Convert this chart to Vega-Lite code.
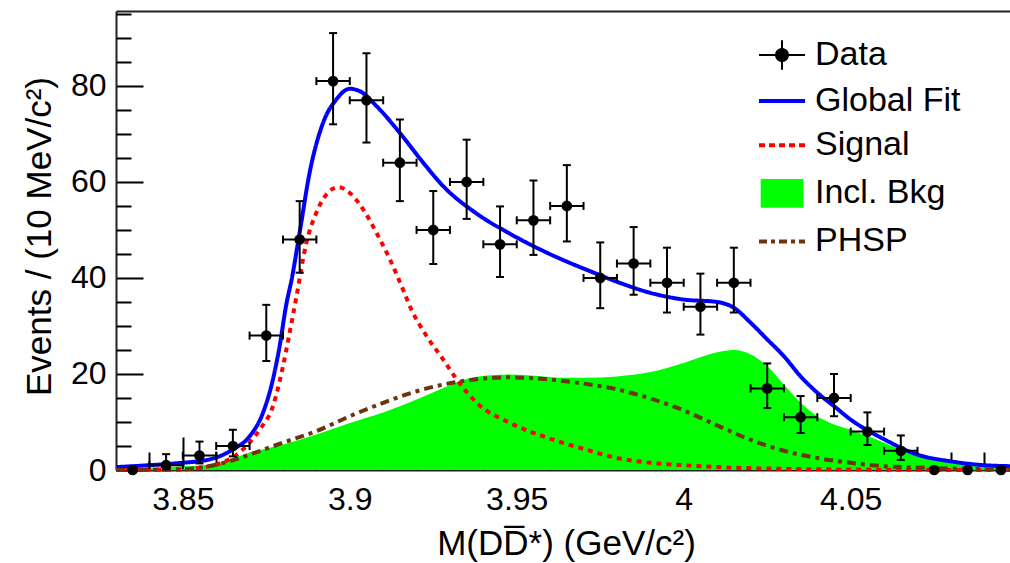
{
  "$schema": "https://vega.github.io/schema/vega-lite/v6.json",
  "autosize": {"type": "none"},
  "padding": {"left": 116, "top": 11, "right": 0, "bottom": 93},
  "width": 894,
  "height": 459,
  "background": "#ffffff",
  "config": {
    "view": {"stroke": null},
    "font": "Liberation Sans",
    "axis": {
      "domainColor": "#222222",
      "domainWidth": 2,
      "tickColor": "#000000",
      "tickWidth": 2,
      "labelColor": "#000000",
      "titleColor": "#000000",
      "titleFontWeight": "normal",
      "labelFont": "Liberation Sans",
      "titleFont": "Liberation Sans",
      "grid": false,
      "zindex": 1
    }
  },
  "datasets": {
    "curves": [
      {"m": 3.830, "y": 0.6, "s": "Global Fit"},
      {"m": 3.840, "y": 1.0, "s": "Global Fit"},
      {"m": 3.848, "y": 1.4, "s": "Global Fit"},
      {"m": 3.858, "y": 2.2, "s": "Global Fit"},
      {"m": 3.865, "y": 4.3, "s": "Global Fit"},
      {"m": 3.870, "y": 7.0, "s": "Global Fit"},
      {"m": 3.874, "y": 11.9, "s": "Global Fit"},
      {"m": 3.877, "y": 18.9, "s": "Global Fit"},
      {"m": 3.879, "y": 25.8, "s": "Global Fit"},
      {"m": 3.881, "y": 34.5, "s": "Global Fit"},
      {"m": 3.8826, "y": 39.7, "s": "Global Fit"},
      {"m": 3.885, "y": 49.5, "s": "Global Fit"},
      {"m": 3.888, "y": 62.0, "s": "Global Fit"},
      {"m": 3.892, "y": 72.3, "s": "Global Fit"},
      {"m": 3.896, "y": 77.2, "s": "Global Fit"},
      {"m": 3.900, "y": 79.4, "s": "Global Fit"},
      {"m": 3.903, "y": 78.9, "s": "Global Fit"},
      {"m": 3.908, "y": 75.8, "s": "Global Fit"},
      {"m": 3.915, "y": 70.2, "s": "Global Fit"},
      {"m": 3.922, "y": 64.0, "s": "Global Fit"},
      {"m": 3.928, "y": 59.1, "s": "Global Fit"},
      {"m": 3.938, "y": 53.4, "s": "Global Fit"},
      {"m": 3.948, "y": 49.2, "s": "Global Fit"},
      {"m": 3.958, "y": 45.6, "s": "Global Fit"},
      {"m": 3.965, "y": 43.4, "s": "Global Fit"},
      {"m": 3.972, "y": 41.4, "s": "Global Fit"},
      {"m": 3.980, "y": 39.2, "s": "Global Fit"},
      {"m": 3.990, "y": 36.9, "s": "Global Fit"},
      {"m": 4.000, "y": 35.5, "s": "Global Fit"},
      {"m": 4.010, "y": 35.0, "s": "Global Fit"},
      {"m": 4.015, "y": 33.8, "s": "Global Fit"},
      {"m": 4.020, "y": 30.7, "s": "Global Fit"},
      {"m": 4.025, "y": 27.2, "s": "Global Fit"},
      {"m": 4.030, "y": 23.7, "s": "Global Fit"},
      {"m": 4.035, "y": 19.5, "s": "Global Fit"},
      {"m": 4.040, "y": 16.1, "s": "Global Fit"},
      {"m": 4.045, "y": 13.3, "s": "Global Fit"},
      {"m": 4.050, "y": 10.5, "s": "Global Fit"},
      {"m": 4.060, "y": 6.4, "s": "Global Fit"},
      {"m": 4.070, "y": 3.2, "s": "Global Fit"},
      {"m": 4.080, "y": 1.8, "s": "Global Fit"},
      {"m": 4.090, "y": 1.0, "s": "Global Fit"},
      {"m": 4.0977, "y": 0.8, "s": "Global Fit"},

      {"m": 3.830, "y": 0.0, "s": "Signal"},
      {"m": 3.848, "y": 0.1, "s": "Signal"},
      {"m": 3.858, "y": 0.8, "s": "Signal"},
      {"m": 3.868, "y": 4.3, "s": "Signal"},
      {"m": 3.873, "y": 8.4, "s": "Signal"},
      {"m": 3.877, "y": 13.3, "s": "Signal"},
      {"m": 3.880, "y": 21.6, "s": "Signal"},
      {"m": 3.882, "y": 28.6, "s": "Signal"},
      {"m": 3.884, "y": 36.0, "s": "Signal"},
      {"m": 3.887, "y": 47.3, "s": "Signal"},
      {"m": 3.890, "y": 53.6, "s": "Signal"},
      {"m": 3.893, "y": 57.4, "s": "Signal"},
      {"m": 3.8966, "y": 58.9, "s": "Signal"},
      {"m": 3.900, "y": 57.7, "s": "Signal"},
      {"m": 3.904, "y": 54.3, "s": "Signal"},
      {"m": 3.908, "y": 49.4, "s": "Signal"},
      {"m": 3.912, "y": 43.9, "s": "Signal"},
      {"m": 3.916, "y": 37.5, "s": "Signal"},
      {"m": 3.918, "y": 34.1, "s": "Signal"},
      {"m": 3.923, "y": 27.9, "s": "Signal"},
      {"m": 3.928, "y": 23.0, "s": "Signal"},
      {"m": 3.932, "y": 18.9, "s": "Signal"},
      {"m": 3.938, "y": 14.0, "s": "Signal"},
      {"m": 3.948, "y": 9.8, "s": "Signal"},
      {"m": 3.958, "y": 7.0, "s": "Signal"},
      {"m": 3.970, "y": 4.4, "s": "Signal"},
      {"m": 3.980, "y": 2.5, "s": "Signal"},
      {"m": 3.990, "y": 1.5, "s": "Signal"},
      {"m": 4.000, "y": 1.0, "s": "Signal"},
      {"m": 4.010, "y": 0.6, "s": "Signal"},
      {"m": 4.030, "y": 0.25, "s": "Signal"},
      {"m": 4.050, "y": 0.1, "s": "Signal"},
      {"m": 4.0977, "y": 0.0, "s": "Signal"},

      {"m": 3.830, "y": 0.0, "s": "PHSP"},
      {"m": 3.848, "y": 0.1, "s": "PHSP"},
      {"m": 3.860, "y": 1.1, "s": "PHSP"},
      {"m": 3.870, "y": 3.2, "s": "PHSP"},
      {"m": 3.880, "y": 5.7, "s": "PHSP"},
      {"m": 3.890, "y": 8.1, "s": "PHSP"},
      {"m": 3.900, "y": 11.2, "s": "PHSP"},
      {"m": 3.910, "y": 14.0, "s": "PHSP"},
      {"m": 3.920, "y": 16.4, "s": "PHSP"},
      {"m": 3.928, "y": 17.8, "s": "PHSP"},
      {"m": 3.938, "y": 18.9, "s": "PHSP"},
      {"m": 3.948, "y": 19.3, "s": "PHSP"},
      {"m": 3.955, "y": 19.1, "s": "PHSP"},
      {"m": 3.962, "y": 18.7, "s": "PHSP"},
      {"m": 3.970, "y": 18.0, "s": "PHSP"},
      {"m": 3.980, "y": 16.8, "s": "PHSP"},
      {"m": 3.990, "y": 14.9, "s": "PHSP"},
      {"m": 4.000, "y": 12.4, "s": "PHSP"},
      {"m": 4.010, "y": 9.3, "s": "PHSP"},
      {"m": 4.020, "y": 6.3, "s": "PHSP"},
      {"m": 4.030, "y": 4.0, "s": "PHSP"},
      {"m": 4.040, "y": 2.5, "s": "PHSP"},
      {"m": 4.050, "y": 1.5, "s": "PHSP"},
      {"m": 4.060, "y": 0.8, "s": "PHSP"},
      {"m": 4.070, "y": 0.5, "s": "PHSP"},
      {"m": 4.0977, "y": 0.1, "s": "PHSP"}
    ],
    "bkg": [
      {"m": 3.830, "y": 0.4}, {"m": 3.848, "y": 0.7}, {"m": 3.858, "y": 1.1},
      {"m": 3.870, "y": 3.6}, {"m": 3.880, "y": 5.3}, {"m": 3.890, "y": 7.4},
      {"m": 3.900, "y": 9.8}, {"m": 3.910, "y": 12.0}, {"m": 3.920, "y": 14.7},
      {"m": 3.928, "y": 17.1}, {"m": 3.933, "y": 18.5}, {"m": 3.938, "y": 19.4},
      {"m": 3.948, "y": 19.9}, {"m": 3.958, "y": 19.5}, {"m": 3.965, "y": 19.2},
      {"m": 3.970, "y": 19.2}, {"m": 3.980, "y": 19.5}, {"m": 3.990, "y": 20.4},
      {"m": 4.000, "y": 22.3}, {"m": 4.010, "y": 24.5}, {"m": 4.015, "y": 25.0},
      {"m": 4.020, "y": 24.1}, {"m": 4.025, "y": 21.6}, {"m": 4.030, "y": 17.8},
      {"m": 4.035, "y": 14.0}, {"m": 4.040, "y": 11.2}, {"m": 4.045, "y": 9.5},
      {"m": 4.050, "y": 8.4}, {"m": 4.060, "y": 5.7}, {"m": 4.070, "y": 2.9},
      {"m": 4.080, "y": 1.5}, {"m": 4.090, "y": 0.8}, {"m": 4.0977, "y": 0.5}
    ],
    "points": [
      {"m": 3.835, "lo": 3.83, "hi": 3.84, "n": 0, "ylo": 0, "yhi": 0},
      {"m": 3.845, "lo": 3.84, "hi": 3.85, "n": 1, "ylo": 0.17, "yhi": 3.30},
      {"m": 3.855, "lo": 3.85, "hi": 3.86, "n": 3, "ylo": 1.37, "yhi": 5.92},
      {"m": 3.865, "lo": 3.86, "hi": 3.87, "n": 5, "ylo": 2.84, "yhi": 8.38},
      {"m": 3.875, "lo": 3.87, "hi": 3.88, "n": 28, "ylo": 22.7, "yhi": 34.4},
      {"m": 3.885, "lo": 3.88, "hi": 3.89, "n": 48, "ylo": 41.1, "yhi": 56.0},
      {"m": 3.895, "lo": 3.89, "hi": 3.90, "n": 81, "ylo": 72.0, "yhi": 91.0},
      {"m": 3.905, "lo": 3.90, "hi": 3.91, "n": 77, "ylo": 68.2, "yhi": 86.8},
      {"m": 3.915, "lo": 3.91, "hi": 3.92, "n": 64, "ylo": 56.0, "yhi": 73.0},
      {"m": 3.925, "lo": 3.92, "hi": 3.93, "n": 50, "ylo": 42.9, "yhi": 58.1},
      {"m": 3.935, "lo": 3.93, "hi": 3.94, "n": 60, "ylo": 52.3, "yhi": 68.8},
      {"m": 3.945, "lo": 3.94, "hi": 3.95, "n": 47, "ylo": 40.2, "yhi": 54.9},
      {"m": 3.955, "lo": 3.95, "hi": 3.96, "n": 52, "ylo": 44.8, "yhi": 60.3},
      {"m": 3.965, "lo": 3.96, "hi": 3.97, "n": 55, "ylo": 47.6, "yhi": 63.5},
      {"m": 3.975, "lo": 3.97, "hi": 3.98, "n": 40, "ylo": 33.7, "yhi": 47.4},
      {"m": 3.985, "lo": 3.98, "hi": 3.99, "n": 43, "ylo": 36.5, "yhi": 50.6},
      {"m": 3.995, "lo": 3.99, "hi": 4.00, "n": 39, "ylo": 32.8, "yhi": 46.3},
      {"m": 4.005, "lo": 4.00, "hi": 4.01, "n": 34, "ylo": 28.2, "yhi": 40.9},
      {"m": 4.015, "lo": 4.01, "hi": 4.02, "n": 39, "ylo": 32.8, "yhi": 46.3},
      {"m": 4.025, "lo": 4.02, "hi": 4.03, "n": 17, "ylo": 12.9, "yhi": 22.2},
      {"m": 4.035, "lo": 4.03, "hi": 4.04, "n": 11, "ylo": 7.7, "yhi": 15.4},
      {"m": 4.045, "lo": 4.04, "hi": 4.05, "n": 15, "ylo": 11.2, "yhi": 20.0},
      {"m": 4.055, "lo": 4.05, "hi": 4.06, "n": 8, "ylo": 5.2, "yhi": 12.0},
      {"m": 4.065, "lo": 4.06, "hi": 4.07, "n": 4, "ylo": 2.1, "yhi": 7.2},
      {"m": 4.075, "lo": 4.07, "hi": 4.08, "n": 0, "ylo": 0, "yhi": 0},
      {"m": 4.085, "lo": 4.08, "hi": 4.09, "n": 0, "ylo": 0, "yhi": 0},
      {"m": 4.095, "lo": 4.09, "hi": 4.10, "n": 0, "ylo": 0, "yhi": 0}
    ]
  },
  "resolve": {"axis": {"x": "independent", "y": "independent"}},
  "layer": [
    {
      "data": {"name": "bkg"},
      "mark": {"type": "area", "color": "#00ff00", "interpolate": "monotone", "opacity": 1},
      "encoding": {
        "x": {"field": "m", "type": "quantitative",
          "scale": {"domain": [3.83, 4.0977], "nice": false, "zero": false},
          "axis": {"orient": "bottom", "values": [3.85, 3.9, 3.95, 4, 4.05], "format": ".2~f",
            "tickSize": -33, "labelPadding": 47, "labelFontSize": 32, "labelFlush": false, "labelOverlap": false,
            "title": "M(DD̅*) (GeV/c²)", "titleFontSize": 35, "titleX": 450, "titleY": 56, "titleAnchor": "middle", "titleAlign": "center", "titleBaseline": "top"}},
        "y": {"field": "y", "type": "quantitative",
          "scale": {"domain": [0, 95.6], "nice": false, "zero": false},
          "axis": {"orient": "left", "values": [0, 20, 40, 60, 80],
            "tickSize": -27, "labelPadding": 37, "labelFontSize": 32, "labelFlush": false, "labelOverlap": false,
            "title": "Events / (10 MeV/c²)", "titleFontSize": 35, "titleX": -58.6, "titleY": 225, "titleAngle": -90, "titleAlign": "center", "titleBaseline": "bottom"}}
      }
    },
    {
      "data": {"name": "curves"},
      "mark": {"type": "line", "strokeWidth": 4, "interpolate": "monotone"},
      "encoding": {
        "x": {"field": "m", "type": "quantitative",
          "axis": {"orient": "bottom", "values": [3.84, 3.86, 3.87, 3.88, 3.89, 3.91, 3.92, 3.93, 3.94, 3.96, 3.97, 3.98, 3.99, 4.01, 4.02, 4.03, 4.04, 4.06, 4.07, 4.08, 4.09],
            "tickSize": -18, "labels": false, "domain": false, "title": null}},
        "y": {"field": "y", "type": "quantitative",
          "axis": {"orient": "left", "values": [5, 10, 15, 25, 30, 35, 45, 50, 55, 65, 70, 75, 85, 90, 95],
            "tickSize": -15, "labels": false, "domain": false, "title": null}},
        "color": {"field": "s", "type": "nominal",
          "scale": {"domain": ["Data", "Global Fit", "Signal", "Incl. Bkg", "PHSP"],
                    "range": ["#000000", "#0000ff", "#ff0000", "#00ff00", "#6b3510"]},
          "legend": {
            "title": null, "orient": "none", "legendX": 641, "legendY": 27, "padding": 0,
            "labelFont": "Liberation Sans", "labelFontSize": 34, "labelColor": "#000000",
            "labelOffset": 16, "symbolOffset": 8, "labelLimit": 400, "symbolSize": 2116, "symbolStrokeWidth": 4,
            "rowPadding": 10.1, "symbolType": "stroke",
            "encoding": {
              "symbols": {
                "shape": {"value": {"expr": "datum.value === 'Data' ? 'M-1,0H1M0,-0.64V0.64M0.26,0A0.26,0.26,0,1,1,-0.26,0A0.26,0.26,0,1,1,0.26,0Z' : datum.value === 'Incl. Bkg' ? 'M-0.84,-0.54H0.84V0.54H-0.84Z' : 'stroke'"}},
                "fill": {"value": {"expr": "datum.value === 'Data' ? '#000000' : datum.value === 'Incl. Bkg' ? '#00ff00' : 'transparent'"}},
                "stroke": {"value": {"expr": "datum.value === 'Data' ? '#000000' : datum.value === 'Global Fit' ? '#0000ff' : datum.value === 'Signal' ? '#ff0000' : datum.value === 'PHSP' ? '#6b3510' : 'transparent'"}},
                "strokeDash": {"value": {"expr": "datum.value === 'Signal' ? [6, 4] : datum.value === 'PHSP' ? [8, 4, 4, 4] : [1, 0]"}},
                "strokeWidth": {"value": {"expr": "datum.value === 'Data' ? 2 : 4"}},
                "opacity": {"value": 1}
              }
            }
          }},
        "strokeDash": {"field": "s", "type": "nominal",
          "scale": {"domain": ["Global Fit", "Signal", "PHSP"], "range": [[1, 0], [5, 5], [9, 5, 4, 5]]},
          "legend": null}
      }
    },
    {
      "data": {"name": "points"},
      "transform": [{"filter": "datum.n > 0"}],
      "mark": {"type": "rule", "color": "#000000", "strokeWidth": 2},
      "encoding": {
        "x": {"field": "m", "type": "quantitative",
          "axis": {"orient": "top", "ticks": false, "labels": false, "domain": true, "title": null}},
        "y": {"field": "ylo", "type": "quantitative", "axis": null},
        "y2": {"field": "yhi"}
      }
    },
    {
      "data": {"name": "points"},
      "transform": [{"filter": "datum.n > 0"}],
      "mark": {"type": "rule", "color": "#000000", "strokeWidth": 2},
      "encoding": {
        "x": {"field": "lo", "type": "quantitative", "axis": null},
        "x2": {"field": "hi"},
        "y": {"field": "n", "type": "quantitative", "axis": null}
      }
    },
    {
      "data": {"name": "points"},
      "transform": [{"filter": "datum.n > 0"}],
      "mark": {"type": "tick", "orient": "horizontal", "color": "#000000", "size": 8, "thickness": 2, "opacity": 1},
      "encoding": {
        "x": {"field": "m", "type": "quantitative", "axis": null},
        "y": {"field": "ylo", "type": "quantitative", "axis": null}
      }
    },
    {
      "data": {"name": "points"},
      "transform": [{"filter": "datum.n > 0"}],
      "mark": {"type": "tick", "orient": "horizontal", "color": "#000000", "size": 8, "thickness": 2, "opacity": 1},
      "encoding": {
        "x": {"field": "m", "type": "quantitative", "axis": null},
        "y": {"field": "yhi", "type": "quantitative", "axis": null}
      }
    },
    {
      "data": {"name": "points"},
      "transform": [{"filter": "datum.n > 0"}],
      "mark": {"type": "tick", "orient": "vertical", "color": "#000000", "size": 8, "thickness": 2, "opacity": 1},
      "encoding": {
        "x": {"field": "lo", "type": "quantitative", "axis": null},
        "y": {"field": "n", "type": "quantitative", "axis": null}
      }
    },
    {
      "data": {"name": "points"},
      "transform": [{"filter": "datum.n > 0"}],
      "mark": {"type": "tick", "orient": "vertical", "color": "#000000", "size": 8, "thickness": 2, "opacity": 1},
      "encoding": {
        "x": {"field": "hi", "type": "quantitative", "axis": null},
        "y": {"field": "n", "type": "quantitative", "axis": null}
      }
    },
    {
      "data": {"name": "points"},
      "mark": {"type": "circle", "color": "#000000", "size": 115, "opacity": 1},
      "encoding": {
        "x": {"field": "m", "type": "quantitative", "axis": null},
        "y": {"field": "n", "type": "quantitative", "axis": null}
      }
    }
  ]
}
